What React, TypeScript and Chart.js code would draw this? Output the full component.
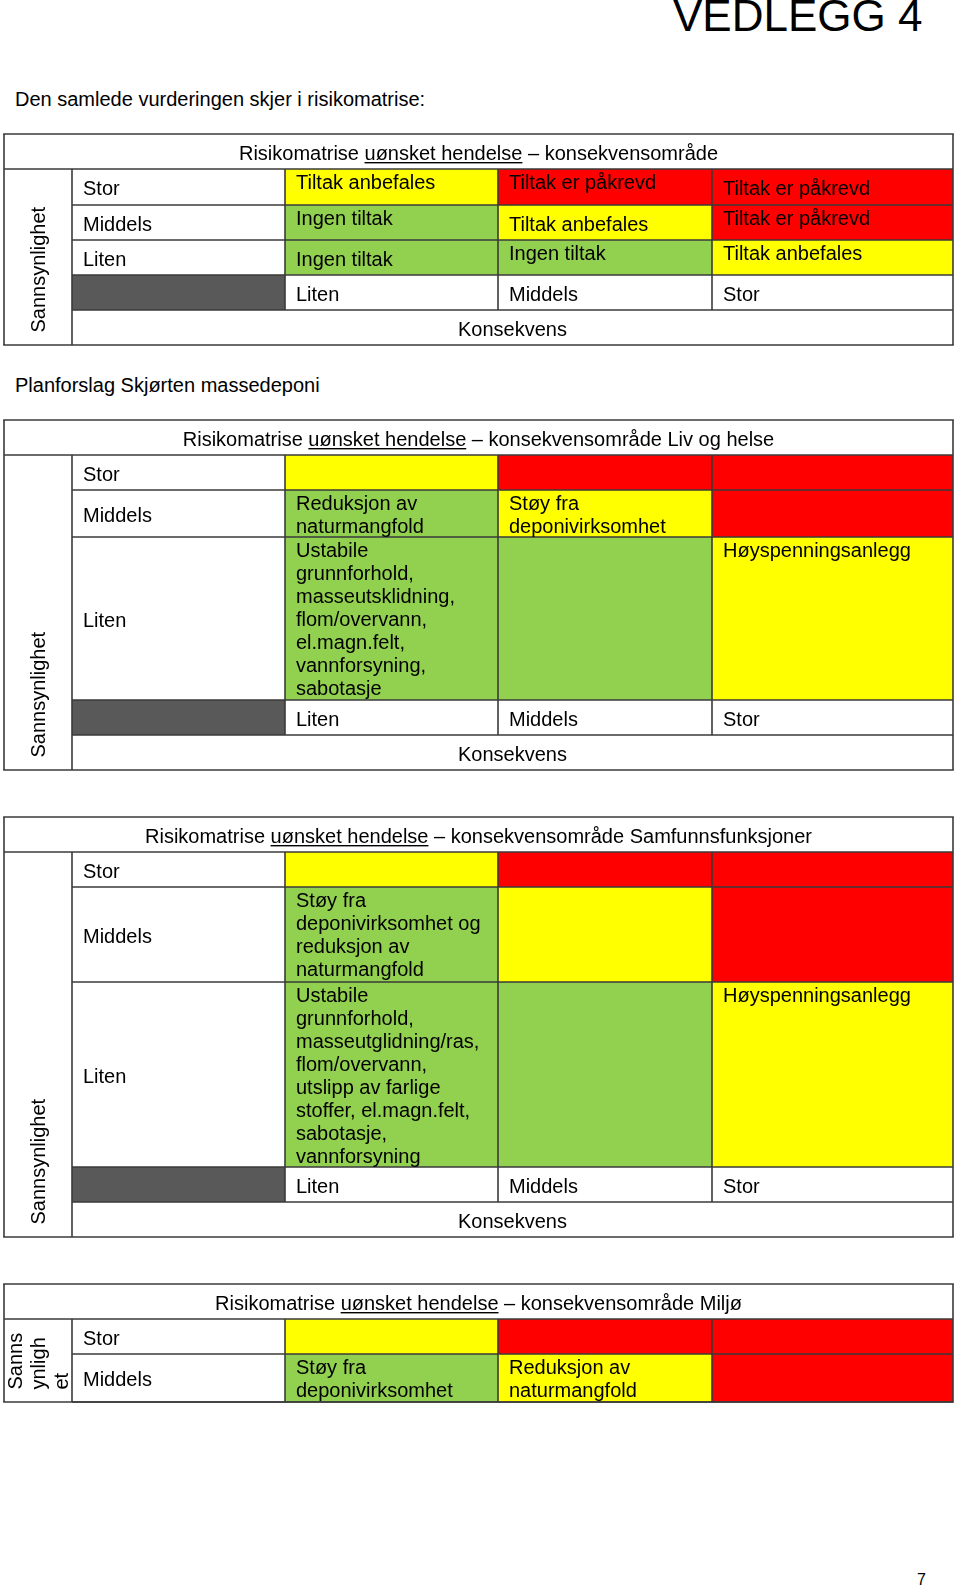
import React, { useEffect, useRef } from 'react';
import { Chart, registerables } from 'chart.js';

Chart.register(...registerables);

// ---------------- data ----------------
const pageTitle = 'VEDLEGG 4';
const introText = 'Den samlede vurderingen skjer i risikomatrise:';
const planText = 'Planforslag Skjørten massedeponi';
const pageNumber = '7';

const consequenceLabels = ['Liten', 'Middels', 'Stor'];
const probabilityLabels = ['Stor', 'Middels', 'Liten'];
const consequenceAxisLabel = 'Konsekvens';
const probabilityAxisLabel = 'Sannsynlighet';
const titlePrefix = 'Risikomatrise ';
const titleUnderlined = 'uønsket hendelse';
const titleMain = ' – konsekvensområde';

type Lvl = 'G' | 'Y' | 'R';

// Overview matrix
const overviewTitle = '';
const overviewLevels: Lvl[][] = [
  ['Y', 'R', 'R'],
  ['G', 'Y', 'R'],
  ['G', 'G', 'Y'],
];
const overviewTexts = [
  ['Tiltak anbefales', 'Tiltak er påkrevd', 'Tiltak er påkrevd'],
  ['Ingen tiltak', 'Tiltak anbefales', 'Tiltak er påkrevd'],
  ['Ingen tiltak', 'Ingen tiltak', 'Tiltak anbefales'],
];

// Liv og helse
const livTitle = ' Liv og helse';
const livLevels: Lvl[][] = [
  ['Y', 'R', 'R'],
  ['G', 'Y', 'R'],
  ['G', 'G', 'Y'],
];
const livTexts = [
  ['', '', ''],
  ['Reduksjon av\nnaturmangfold', 'Støy fra\ndeponivirksomhet', ''],
  [
    'Ustabile\ngrunnforhold,\nmasseutsklidning,\nflom/overvann,\nel.magn.felt,\nvannforsyning,\nsabotasje',
    '',
    'Høyspenningsanlegg',
  ],
];

// Samfunnsfunksjoner
const samfTitle = ' Samfunnsfunksjoner';
const samfLevels: Lvl[][] = [
  ['Y', 'R', 'R'],
  ['G', 'Y', 'R'],
  ['G', 'G', 'Y'],
];
const samfTexts = [
  ['', '', ''],
  ['Støy fra\ndeponivirksomhet og\nreduksjon av\nnaturmangfold', '', ''],
  [
    'Ustabile\ngrunnforhold,\nmasseutglidning/ras,\nflom/overvann,\nutslipp av farlige\nstoffer, el.magn.felt,\nsabotasje,\nvannforsyning',
    '',
    'Høyspenningsanlegg',
  ],
];

// Miljø
const miljoTitle = ' Miljø';
const miljoLevels: Lvl[][] = [
  ['Y', 'R', 'R'],
  ['G', 'Y', 'R'],
];
const miljoTexts = [
  ['', '', ''],
  ['Støy fra\ndeponivirksomhet', 'Reduksjon av\nnaturmangfold', ''],
];

// ---------------- style / layout ----------------
const FONT = '"Liberation Sans", Arial, Helvetica, sans-serif';
const levelColors: Record<Lvl, string> = { G: '#92D050', Y: '#FFFF00', R: '#FF0000' };
const DARK_CELL = '#595959';
const GRID_COLOR = '#3a3a3a';
const COL_EDGES = [4, 72, 285, 498, 712, 953];
const ROW_H = 35;
const LINE_H = 23.1;
const PAD_X = 11;

type VA = 't' | 'm';
interface MatrixCfg {
  suffix: string;
  levels: Lvl[][];
  texts: string[][];
  top: number;
  rowHeights: number[];
  showConsequence: boolean;
  valign?: VA[][];
  probLines: string[];
}

const matrices: MatrixCfg[] = [
  {
    suffix: overviewTitle,
    levels: overviewLevels,
    texts: overviewTexts,
    top: 134,
    rowHeights: [36, 35, 35],
    showConsequence: true,
    valign: [
      ['t', 't', 'm'],
      ['t', 'm', 't'],
      ['m', 't', 't'],
    ],
    probLines: [probabilityAxisLabel],
  },
  {
    suffix: livTitle,
    levels: livLevels,
    texts: livTexts,
    top: 420,
    rowHeights: [35, 47, 163],
    showConsequence: true,
    probLines: [probabilityAxisLabel],
  },
  {
    suffix: samfTitle,
    levels: samfLevels,
    texts: samfTexts,
    top: 817,
    rowHeights: [35, 95, 185],
    showConsequence: true,
    probLines: [probabilityAxisLabel],
  },
  {
    suffix: miljoTitle,
    levels: miljoLevels,
    texts: miljoTexts,
    top: 1284,
    rowHeights: [35, 48],
    showConsequence: false,
    probLines: ['Sanns', 'ynligh', 'et'],
  },
];

function geometry(cfg: MatrixCfg) {
  const titleBottom = cfg.top + ROW_H;
  const rowEdges = [titleBottom];
  cfg.rowHeights.forEach((h) => rowEdges.push(rowEdges[rowEdges.length - 1] + h));
  const gridBottom = rowEdges[rowEdges.length - 1];
  const consBottom = cfg.showConsequence ? gridBottom + ROW_H : gridBottom;
  const tableBottom = cfg.showConsequence ? consBottom + ROW_H : gridBottom;
  const canvasTop = cfg.top - 3;
  const canvasH = tableBottom - cfg.top + 6;
  return { titleBottom, rowEdges, gridBottom, consBottom, tableBottom, canvasTop, canvasH };
}

function makeTablePlugin(cfg: MatrixCfg) {
  const g = geometry(cfg);
  const E = COL_EDGES;
  return {
    id: 'riskTable',
    afterDatasetsDraw(chart: any) {
      const ctx: CanvasRenderingContext2D = chart.ctx;
      const sx = chart.scales.x;
      const sy = chart.scales.y;
      const px = (v: number) => sx.getPixelForValue(v);
      const py = (v: number) => sy.getPixelForValue(v);
      ctx.save();

      // grid lines
      ctx.strokeStyle = GRID_COLOR;
      ctx.lineWidth = 1.6;
      const hline = (y: number, x0: number, x1: number) => {
        ctx.beginPath();
        ctx.moveTo(px(x0), py(y));
        ctx.lineTo(px(x1), py(y));
        ctx.stroke();
      };
      const vline = (x: number, y0: number, y1: number) => {
        ctx.beginPath();
        ctx.moveTo(px(x), py(y0));
        ctx.lineTo(px(x), py(y1));
        ctx.stroke();
      };
      hline(cfg.top, E[0] - 0.8, E[5] + 0.8);
      hline(g.tableBottom, E[0] - 0.8, E[5] + 0.8);
      vline(E[0], cfg.top, g.tableBottom);
      vline(E[5], cfg.top, g.tableBottom);
      hline(g.titleBottom, E[0], E[5]);
      vline(E[1], g.titleBottom, g.tableBottom);
      g.rowEdges.slice(1).forEach((y) => hline(y, E[1], E[5]));
      if (cfg.showConsequence) hline(g.consBottom, E[1], E[5]);
      [E[2], E[3], E[4]].forEach((x) => vline(x, g.titleBottom, g.consBottom));

      // text
      ctx.font = `20px ${FONT}`;
      ctx.fillStyle = '#000';
      ctx.textBaseline = 'alphabetic';
      ctx.textAlign = 'left';

      // title with underline
      const parts = [
        { t: titlePrefix, u: false },
        { t: titleUnderlined, u: true },
        { t: titleMain + cfg.suffix, u: false },
      ];
      const total = parts.reduce((s, p) => s + ctx.measureText(p.t).width, 0);
      const titleBase = (cfg.top + g.titleBottom) / 2 + 8.5;
      let tx = px((E[0] + E[5]) / 2) - total / 2;
      parts.forEach((p) => {
        const w = ctx.measureText(p.t).width;
        ctx.fillText(p.t, tx, py(titleBase));
        if (p.u) ctx.fillRect(tx, py(titleBase) + 2, w, 1.4);
        tx += w;
      });

      // row labels and cell texts
      cfg.levels.forEach((_row, ri) => {
        const r0 = g.rowEdges[ri];
        const r1 = g.rowEdges[ri + 1];
        const mid = (r0 + r1) / 2;
        ctx.fillText(probabilityLabels[ri], px(E[1] + PAD_X), py(mid + 8));
        consequenceLabels.forEach((_c, ci) => {
          const txt = cfg.texts[ri][ci];
          if (!txt) return;
          const lines = txt.split('\n');
          const va = cfg.valign ? cfg.valign[ri][ci] : 't';
          const b0 = va === 't' ? r0 + 19.5 : mid + 8 - ((lines.length - 1) * LINE_H) / 2;
          lines.forEach((ln, k) => ctx.fillText(ln, px(E[2 + ci] + PAD_X), py(b0 + k * LINE_H)));
        });
      });

      if (cfg.showConsequence) {
        const cMid = (g.gridBottom + g.consBottom) / 2;
        consequenceLabels.forEach((lab, ci) => ctx.fillText(lab, px(E[2 + ci] + PAD_X), py(cMid + 8)));
        ctx.textAlign = 'center';
        ctx.fillText(consequenceAxisLabel, px((E[1] + E[5]) / 2), py((g.consBottom + g.tableBottom) / 2 + 8));
        ctx.textAlign = 'left';
      }

      // rotated probability label
      const n = cfg.probLines.length;
      const cx = (E[0] + E[1]) / 2;
      cfg.probLines.forEach((ln, k) => {
        const bx = cx + 7 - ((n - 1) * LINE_H) / 2 + k * LINE_H;
        ctx.save();
        ctx.translate(px(bx), py(g.tableBottom - 12.5));
        ctx.rotate(-Math.PI / 2);
        ctx.fillText(ln, 0, 0);
        ctx.restore();
      });

      ctx.restore();
    },
  };
}

function RiskMatrix({ cfg }: { cfg: MatrixCfg }) {
  const ref = useRef<HTMLCanvasElement>(null);
  const g = geometry(cfg);

  useEffect(() => {
    if (!ref.current) return;
    const E = COL_EDGES;
    const datasets: any[] = consequenceLabels.map((lab, ci) => ({
      label: lab,
      data: cfg.levels.map((_row, ri) => ({
        x: (E[2 + ci] + E[3 + ci]) / 2,
        y: [g.rowEdges[ri], g.rowEdges[ri + 1]],
      })),
      backgroundColor: cfg.levels.map((row) => levelColors[row[ci]]),
      barThickness: E[3 + ci] - E[2 + ci],
      grouped: false,
      borderWidth: 0,
      inflateAmount: 0,
    }));
    if (cfg.showConsequence) {
      datasets.push({
        label: 'corner',
        data: [{ x: (E[1] + E[2]) / 2, y: [g.gridBottom, g.consBottom] }],
        backgroundColor: DARK_CELL,
        barThickness: E[2] - E[1],
        grouped: false,
        borderWidth: 0,
        inflateAmount: 0,
      });
    }
    const chart = new Chart(ref.current, {
      type: 'bar',
      data: { datasets },
      options: {
        animation: false,
        responsive: false,
        devicePixelRatio: 1,
        layout: { padding: 0 },
        scales: {
          x: { type: 'linear', min: 0, max: 960, offset: false, display: false },
          y: {
            type: 'linear',
            min: g.canvasTop,
            max: g.canvasTop + g.canvasH,
            reverse: true,
            offset: false,
            display: false,
          },
        },
        plugins: { legend: { display: false }, tooltip: { enabled: false } },
      },
      plugins: [makeTablePlugin(cfg)],
    } as any);
    return () => chart.destroy();
  }, [cfg]);

  return (
    <canvas
      ref={ref}
      width={960}
      height={g.canvasH}
      style={{ position: 'absolute', left: 0, top: g.canvasTop, width: 960, height: g.canvasH, display: 'block' }}
    />
  );
}

function TextLine({ text, x, baseline, size }: { text: string; x: number; baseline: number; size: number }) {
  return (
    <div
      style={{
        position: 'absolute',
        left: x,
        top: baseline - 0.9465 * size,
        fontFamily: FONT,
        fontSize: size,
        lineHeight: `${1.2 * size}px`,
        whiteSpace: 'nowrap',
        color: '#000',
      }}
    >
      {text}
    </div>
  );
}

export default function App() {
  return (
    <div
      style={{
        position: 'absolute',
        left: 0,
        top: 0,
        width: 960,
        height: 1588,
        overflow: 'hidden',
        background: '#fff',
      }}
    >
      <TextLine text={pageTitle} x={673} baseline={32} size={44} />
      <TextLine text={introText} x={15} baseline={106} size={20} />
      <TextLine text={planText} x={15} baseline={392} size={20} />
      {matrices.map((m, i) => (
        <RiskMatrix key={i} cfg={m} />
      ))}
      <TextLine text={pageNumber} x={917} baseline={1585} size={16} />
    </div>
  );
}
